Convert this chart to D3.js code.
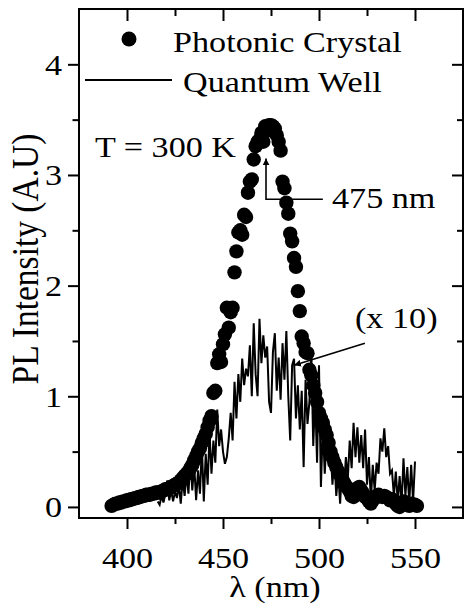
<!DOCTYPE html>
<html>
<head>
<meta charset="utf-8">
<script src="https://cdn.jsdelivr.net/npm/d3@7"></script>
<style>
  body { margin: 0; background: #fff; }
  svg text { font-family: "Liberation Serif", "Times New Roman", serif; fill: #000; }
</style>
</head>
<body>
<div class="canvas"></div>
<script>
// photonic crystal PL, one point per nm from 392 nm
const pcStart = 392;
const pcIntensity = [
    0.01, 0.02, 0.03, 0.03, 0.04, 0.04, 0.05, 0.05, 0.06, 0.06,
    0.07, 0.07, 0.08, 0.08, 0.09, 0.09, 0.10, 0.10, 0.11, 0.11,
    0.11, 0.12, 0.12, 0.13, 0.13, 0.13, 0.14, 0.15, 0.16, 0.16,
    0.17, 0.18, 0.19, 0.20, 0.21, 0.22, 0.24, 0.26, 0.28, 0.30,
    0.32, 0.35, 0.38, 0.42, 0.46, 0.50, 0.53, 0.58, 0.62, 0.66,
    0.72, 0.78, 0.82, 1.03, 1.05, 1.30, 1.38, 1.31, 1.47, 1.56,
    1.80, 1.62, 1.76, 1.80, 2.12, 2.31, 2.48, 2.50, 2.46, 2.64,
    2.62, 2.84, 2.94, 2.96, 3.14, 3.26, 3.30, 3.32, 3.38, 3.30,
    3.44, 3.40, 3.45, 3.45, 3.44, 3.42, 3.36, 3.30, 3.22, 2.94,
    2.88, 2.75, 2.65, 2.47, 2.40, 2.25, 2.17, 1.95, 1.77, 1.54,
    1.48, 1.40, 1.39, 1.24, 1.19, 1.10, 1.03, 0.95, 0.85, 0.80,
    0.76, 0.70, 0.65, 0.58, 0.50, 0.45, 0.40, 0.36, 0.32, 0.29,
    0.26, 0.22, 0.19, 0.17, 0.14, 0.10, 0.09, 0.14, 0.17, 0.18,
    0.15, 0.12, 0.09, 0.08, 0.05, 0.03, 0.06, 0.08, 0.10, 0.11,
    0.10, 0.09, 0.10, 0.09, 0.08, 0.06, 0.07, 0.05, 0.03, 0.01,
    0.00, 0.03, 0.05, 0.04, 0.02, 0.01, 0.03, 0.02, 0.02, 0.01
];

// quantum well PL (x 10), one point per nm from 416 nm
const qwStart = 416;
const qwIntensity = [
    0.05, 0.02, 0.10, 0.04, 0.12, 0.24, 0.06, 0.15, 0.05, 0.14,
    0.08, 0.20, 0.03, 0.25, 0.10, 0.30, 0.12, 0.44, 0.15, 0.38,
    0.06, 0.33, 0.12, 0.55, 0.05, 0.48, 0.20, 0.67, 0.30, 0.60,
    0.40, 0.88, 0.55, 0.70, 0.50, 0.39, 0.45, 0.62, 0.85, 0.60,
    1.13, 0.80, 1.20, 0.95, 1.34, 1.10, 1.25, 1.18, 1.46, 1.00,
    1.66, 1.20, 1.00, 1.70, 1.30, 1.55, 1.35, 1.45, 0.95, 0.85,
    1.40, 1.57, 1.05, 1.35, 0.97, 1.48, 1.15, 1.59, 1.00, 0.60,
    1.28, 1.34, 0.80, 1.10, 0.70, 1.05, 0.36, 1.15, 0.75, 0.95,
    1.40, 0.55, 1.00, 0.40, 1.28, 0.18, 0.73, 0.30, 0.65, 0.40,
    0.55, 0.20, 0.45, 0.10, 0.30, 0.03, 0.35, 0.15, 0.45, 0.25,
    0.60, 0.35, 0.76, 0.45, 0.72, 0.40, 0.65, 0.35, 0.70, 0.20,
    0.45, 0.05, 0.38, 0.15, 0.40, 0.30, 0.62, 0.50, 0.71, 0.45,
    0.55, 0.30, 0.33, 0.10, 0.32, 0.05, 0.28, 0.02, 0.44, 0.10,
    0.36, 0.03, 0.38, 0.05, 0.41
];

const xMajor = [400, 450, 500, 550];
const xMinor = [425, 475, 525];
const yMajor = [0, 1, 2, 3, 4];
const yMinor = [0.5, 1.5, 2.5, 3.5];

const dims = { width: 464, height: 607 };
const frame = { left: 79, right: 463, top: 9, bottom: 518 };
const fontSize = 30.5;
const stretch = 1.12;

const svg = d3.select('.canvas')
    .append('svg')
    .attr('width', dims.width)
    .attr('height', dims.height);

const x = d3.scaleLinear().domain([375, 575]).range([frame.left, frame.right]);
const y = d3.scaleLinear().domain([-0.1, 4.5]).range([frame.bottom, frame.top]);

const pcData = pcIntensity.map((v, i) => ({ wl: pcStart + i, v }));
const qwData = qwIntensity.map((v, i) => ({ wl: qwStart + i, v }));

// text stretched a little sideways, like the original figure
const putText = (str, px, py, anchor) => svg.append('text')
    .attr('transform', `translate(${px}, ${py}) scale(${stretch}, 1)`)
    .attr('text-anchor', anchor || 'start')
    .attr('font-size', fontSize)
    .text(str);

// data
const graph = svg.append('g');

graph.selectAll('circle.pc')
    .data(pcData)
    .enter()
    .append('circle')
    .attr('class', 'pc')
    .attr('cx', d => x(d.wl))
    .attr('cy', d => y(d.v))
    .attr('r', 7.2)
    .attr('fill', '#000');

const line = d3.line()
    .x(d => x(d.wl))
    .y(d => y(d.v));

graph.append('path')
    .datum(qwData)
    .attr('d', line)
    .attr('fill', 'none')
    .attr('stroke', '#000')
    .attr('stroke-width', 2)
    .attr('stroke-linejoin', 'miter');

// axes
const styleAxis = (g) => {
    g.select('.domain').remove();
    g.selectAll('line').attr('stroke', '#000').attr('stroke-width', 2);
};

svg.append('g')
    .attr('transform', `translate(0, ${frame.bottom})`)
    .call(d3.axisBottom(x).tickValues(xMajor).tickSize(11).tickPadding(17).tickFormat(d3.format('d')))
    .call(styleAxis)
    .call(g => g.selectAll('text')
        .attr('font-size', fontSize)
        .attr('font-family', '"Liberation Serif", serif')
        .attr('dy', '0.71em')
        .attr('transform', `scale(${stretch}, 1)`));

svg.append('g')
    .attr('transform', `translate(0, ${frame.bottom})`)
    .call(d3.axisBottom(x).tickValues(xMinor).tickSize(6).tickFormat(''))
    .call(styleAxis);

svg.append('g')
    .attr('transform', `translate(0, ${frame.top})`)
    .call(d3.axisTop(x).tickValues(xMajor).tickSize(-12).tickFormat(''))
    .call(styleAxis);

svg.append('g')
    .attr('transform', `translate(0, ${frame.top})`)
    .call(d3.axisTop(x).tickValues(xMinor).tickSize(-7).tickFormat(''))
    .call(styleAxis);

svg.append('g')
    .attr('transform', `translate(${frame.left}, 0)`)
    .call(d3.axisLeft(y).tickValues(yMajor).tickSize(11).tickPadding(6).tickFormat(d3.format('d')))
    .call(styleAxis)
    .call(g => g.selectAll('text')
        .attr('font-size', fontSize)
        .attr('font-family', '"Liberation Serif", serif')
        .attr('x', -17 / stretch)
        .attr('transform', `scale(${stretch}, 1)`));

svg.append('g')
    .attr('transform', `translate(${frame.left}, 0)`)
    .call(d3.axisLeft(y).tickValues(yMinor).tickSize(6.5).tickFormat(''))
    .call(styleAxis);

svg.append('g')
    .attr('transform', `translate(${frame.right}, 0)`)
    .call(d3.axisRight(y).tickValues(yMajor).tickSize(-11).tickFormat(''))
    .call(styleAxis);

svg.append('g')
    .attr('transform', `translate(${frame.right}, 0)`)
    .call(d3.axisRight(y).tickValues(yMinor).tickSize(-6).tickFormat(''))
    .call(styleAxis);

// frame
svg.append('rect')
    .attr('x', frame.left)
    .attr('y', frame.top)
    .attr('width', frame.right - frame.left)
    .attr('height', frame.bottom - frame.top)
    .attr('fill', 'none')
    .attr('stroke', '#000')
    .attr('stroke-width', 2);

// axis titles
putText('λ (nm)', (frame.left + frame.right) / 2 + 4, 597, 'middle');

svg.append('text')
    .attr('transform', `translate(38, 259) rotate(-90) scale(1, ${stretch})`)
    .attr('text-anchor', 'middle')
    .attr('font-size', 33.5)
    .text('PL Intensity (A.U)');

// legend
svg.append('circle')
    .attr('cx', 129)
    .attr('cy', 39)
    .attr('r', 7.5)
    .attr('fill', '#000');
putText('Photonic Crystal', 173, 52);

svg.append('line')
    .attr('x1', 85).attr('x2', 172)
    .attr('y1', 80).attr('y2', 80)
    .attr('stroke', '#000')
    .attr('stroke-width', 1.8);
putText('Quantum Well', 183, 92);

// annotations
svg.append('defs').append('marker')
    .attr('id', 'head')
    .attr('viewBox', '0 0 10 10')
    .attr('refX', 10).attr('refY', 5)
    .attr('markerWidth', 7).attr('markerHeight', 7)
    .attr('markerUnits', 'userSpaceOnUse')
    .attr('orient', 'auto')
    .append('path')
    .attr('d', 'M0,0 L10,5 L0,10 z')
    .attr('fill', '#000');

putText('T = 300 K', 95, 157);

svg.append('path')
    .attr('d', `M${x(502)},${y(2.78)} H${x(472.4)} V${y(3.15)}`)
    .attr('fill', 'none')
    .attr('stroke', '#000')
    .attr('stroke-width', 1.6)
    .attr('marker-end', 'url(#head)');
putText('475 nm', 332, 208);

svg.append('line')
    .attr('x1', x(523.9)).attr('y1', y(1.48))
    .attr('x2', x(487)).attr('y2', y(1.28))
    .attr('stroke', '#000')
    .attr('stroke-width', 1.6)
    .attr('marker-end', 'url(#head)');
putText('(x 10)', 355, 328);
</script>
</body>
</html>
